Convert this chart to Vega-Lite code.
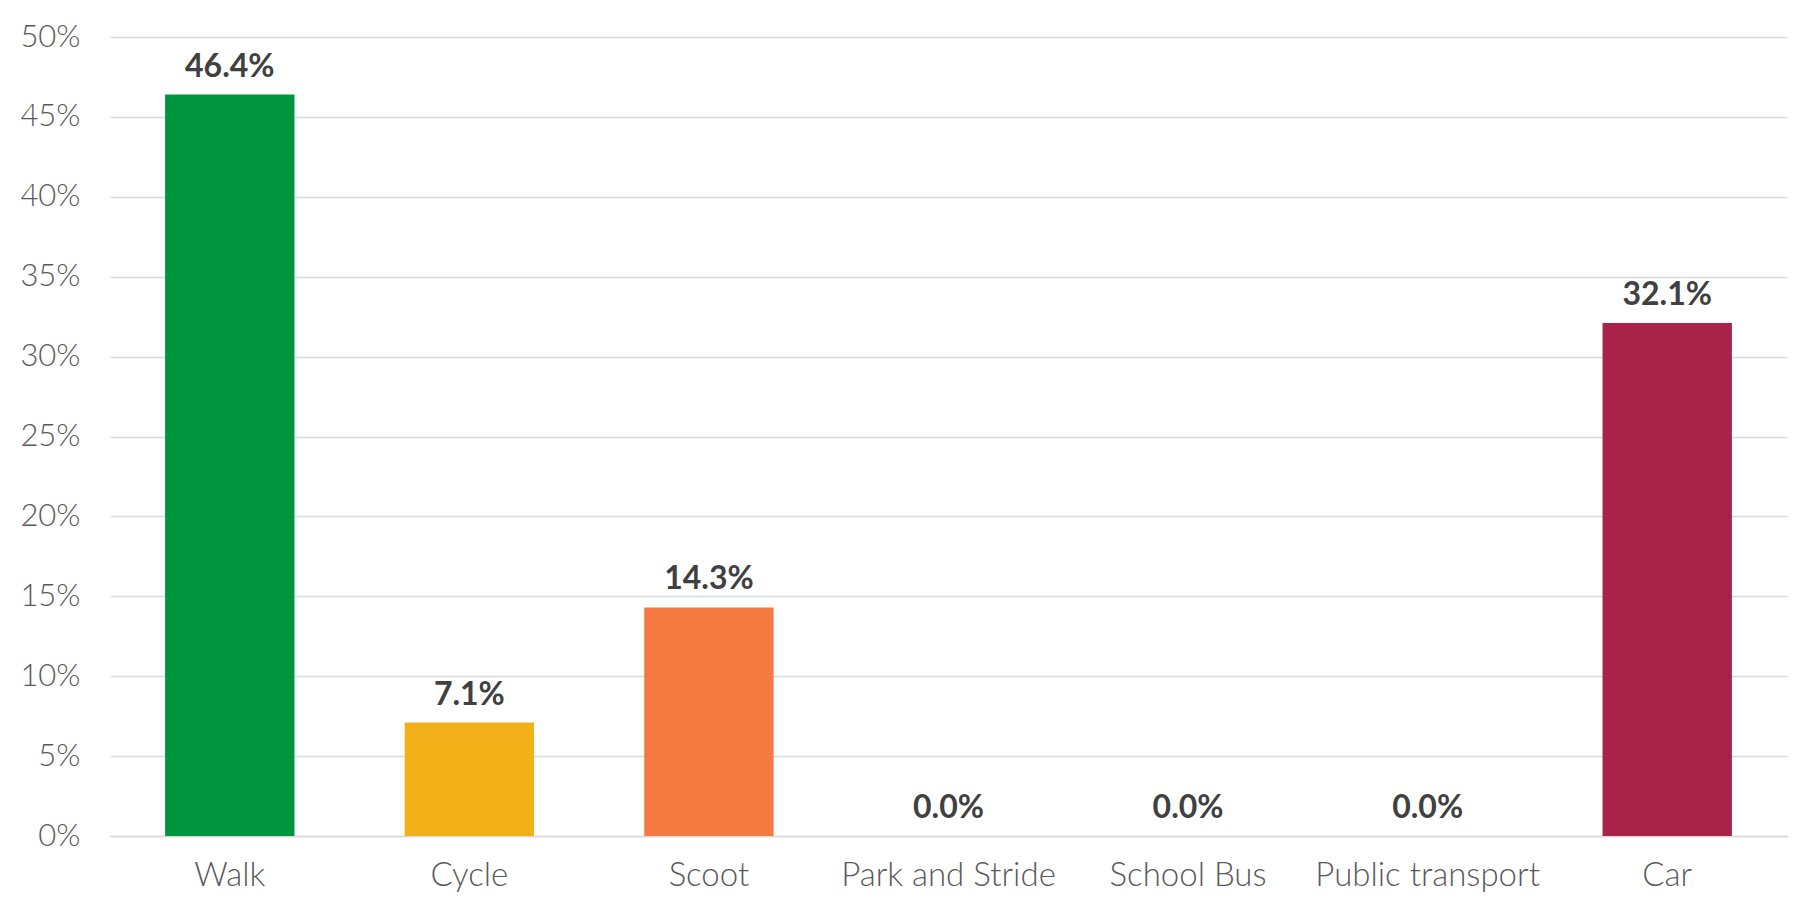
{
  "$schema": "https://vega.github.io/schema/vega-lite/v6.json",
  "autosize": {"type": "none"},
  "padding": {"left": 110, "top": 37, "right": 22, "bottom": 73},
  "width": 1677,
  "height": 799,
  "background": "white",
  "config": {"view": {"stroke": null}, "font": "Lato"},
  "data": {"values": [
    {"mode": "Walk", "share": 0.464, "color": "#009640"},
    {"mode": "Cycle", "share": 0.071, "color": "#F2B118"},
    {"mode": "Scoot", "share": 0.143, "color": "#F47A42"},
    {"mode": "Park and Stride", "share": 0.0, "color": "#A8224A"},
    {"mode": "School Bus", "share": 0.0, "color": "#A8224A"},
    {"mode": "Public transport", "share": 0.0, "color": "#A8224A"},
    {"mode": "Car", "share": 0.321, "color": "#A8224A"}
  ]},
  "encoding": {
    "x": {"field": "mode", "type": "nominal", "sort": null,
      "scale": {"paddingInner": 0.46, "paddingOuter": 0.23},
      "axis": {"title": null, "labelAngle": 0, "ticks": false, "tickSize": 0, "domain": true, "domainColor": "#D9D9D9", "domainWidth": 1.5, "labelFont": "Lato", "labelFontSize": 33, "labelFontWeight": 300, "labelColor": "#595959", "labelPadding": 23, "labelLimit": 0}},
    "y": {"field": "share", "type": "quantitative",
      "scale": {"domain": [0, 0.5], "nice": false},
      "axis": {"title": null, "format": ".0%", "values": [0, 0.05, 0.1, 0.15, 0.2, 0.25, 0.3, 0.35, 0.4, 0.45, 0.5], "domain": false, "ticks": false, "tickSize": 0, "gridColor": "#D9D9D9", "gridWidth": 1.5, "labelFont": "Lato", "labelFontSize": 31, "labelFontWeight": 300, "labelColor": "#595959", "labelPadding": 30}}
  },
  "layer": [
    {"mark": {"type": "bar"}, "encoding": {"color": {"field": "color", "type": "nominal", "scale": null}}},
    {"mark": {"type": "text", "baseline": "alphabetic", "dy": -18, "font": "Lato", "fontSize": 32, "fontWeight": "bold", "color": "#404040"},
      "encoding": {"text": {"field": "share", "type": "quantitative", "format": ".1%"}}}
  ]
}
